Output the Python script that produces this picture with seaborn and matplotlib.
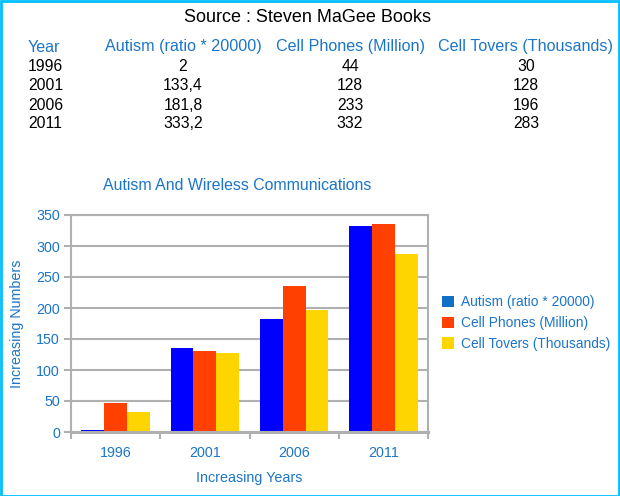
import matplotlib
matplotlib.use("Agg")
import matplotlib.pyplot as plt
import seaborn as sns
import pandas as pd
from matplotlib.patches import Patch, Rectangle

years = ["1996", "2001", "2006", "2011"]
series = ["Autism (ratio * 20000)", "Cell Phones (Million)", "Cell Tovers (Thousands)"]
autism = [4, 135, 183, 333]
phones = [46, 130, 235, 335]
towers = [32, 128, 196, 287]
table_autism = ["2", "133,4", "181,8", "333,2"]
table_phones = ["44", "128", "233", "332"]
table_towers = ["30", "128", "196", "283"]
bar_colors = ["#0000FF", "#FF4000", "#FFD500"]
legend_colors = ["#1170C6", "#FF4000", "#FFD500"]

sns.set_theme(style="white")
plt.rcParams["font.family"] = ["Liberation Sans", "DejaVu Sans"]

BLUE_TXT = "#1B75C9"
GRAY = "#B0B0B0"
AX_FS = 10.3

df = pd.DataFrame({
    "Year": years * 3,
    "Series": [series[0]] * 4 + [series[1]] * 4 + [series[2]] * 4,
    "Value": autism + phones + towers,
})

fig = plt.figure(figsize=(6.2, 4.96), dpi=100)
ax = fig.add_axes([71 / 620, 1 - 432 / 496, (428 - 71) / 620, (432 - 215) / 496])

sns.barplot(data=df, x="Year", y="Value", hue="Series", palette=bar_colors,
            width=0.77, gap=0, ax=ax, legend=False, saturation=1)
for p in ax.patches:
    p.set_linewidth(0)

ax.set_ylim(0, 350)
ax.set_yticks(range(0, 351, 50))
ax.set_xlim(-0.5, 3.5)
ax.yaxis.grid(True, color=GRAY, linewidth=1.5)
ax.set_axisbelow(True)
for s in ax.spines.values():
    s.set_color(GRAY)
    s.set_linewidth(1.5)
ax.spines["bottom"].set_linewidth(2.2)
ax.tick_params(axis="y", colors=GRAY, labelcolor=BLUE_TXT, labelsize=AX_FS,
               length=5, width=1.5, left=True, pad=3)
ax.set_xticks([0, 1, 2, 3])
ax.set_xticklabels(years)
ax.set_xticks([-0.5, 0.5, 1.5, 2.5, 3.5], minor=True)
ax.tick_params(axis="x", which="major", length=0, labelcolor=BLUE_TXT, labelsize=AX_FS, pad=10)
ax.tick_params(axis="x", which="minor", length=5, width=1.5, color=GRAY, bottom=True)
ax.set_xlabel("Increasing Years", color=BLUE_TXT, fontsize=AX_FS, labelpad=8)
ax.set_ylabel("Increasing Numbers", color=BLUE_TXT, fontsize=AX_FS, labelpad=9)

handles = [Patch(facecolor=c, edgecolor="none") for c in legend_colors]
leg = fig.legend(handles, series, loc="center left", bbox_to_anchor=(442 / 620, 1 - 323 / 496),
                 frameon=False, fontsize=9.9, handlelength=0.9, handleheight=0.9,
                 handletextpad=0.45, labelspacing=0.5, borderaxespad=0, borderpad=0)
for t in leg.get_texts():
    t.set_color(BLUE_TXT)

# chart title
fig.text(237 / 620, 1 - 186 / 496, "Autism And Wireless Communications",
         ha="center", va="center", color=BLUE_TXT, fontsize=11.4)

# header and table
fig.text(308 / 620, 1 - 18 / 496, "Source : Steven MaGee Books",
         ha="center", va="center", color="black", fontsize=13)
fig.text(28 / 620, 1 - 47 / 496, "Year", ha="left", va="center", color=BLUE_TXT, fontsize=11.6)
col_x = [183, 350, 526]
for x, h in zip(col_x, series):
    fig.text(x / 620, 1 - 47 / 496, h, ha="center", va="center", color=BLUE_TXT, fontsize=11.6)
row_y = [67, 86, 105, 124]
for i, y in enumerate(row_y):
    fig.text(28 / 620, 1 - y / 496, years[i], ha="left", va="center", color="black", fontsize=11.3)
    for x, col in zip(col_x, [table_autism, table_phones, table_towers]):
        fig.text(x / 620, 1 - y / 496, col[i], ha="center", va="center", color="black", fontsize=11.3)

fig.patches.append(Rectangle((0.5 / 620, 0.5 / 496), 618.5 / 620, 494.5 / 496,
                             transform=fig.transFigure, fill=False,
                             edgecolor="#00BFFF", linewidth=2))

fig.savefig("out.png", dpi=100)
